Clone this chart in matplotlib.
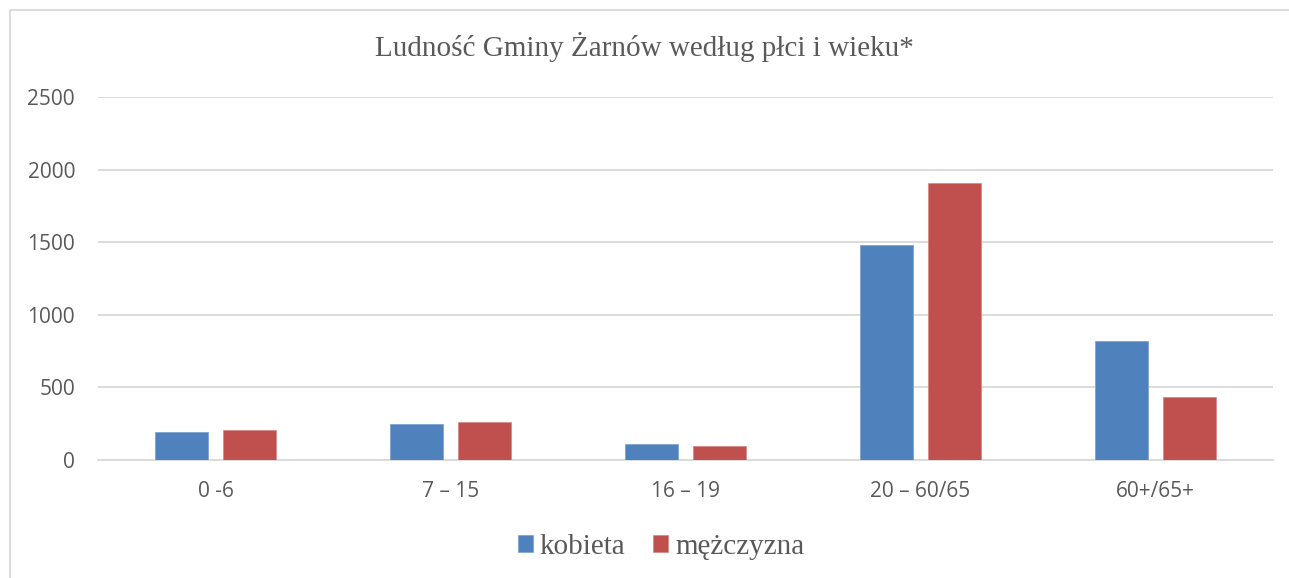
import matplotlib

matplotlib.use("Agg")

import matplotlib.pyplot as plt
import numpy as np
from matplotlib.patches import Rectangle


categories = ["0 -6", "7 – 15", "16 – 19", "20 – 60/65", "60+/65+"]
kobieta = [191, 248, 112, 1479, 822]
mezczyzna = [207, 264, 94, 1910, 436]
series_names = ["kobieta", "mężczyzna"]
y_ticks = [0, 500, 1000, 1500, 2000, 2500]

BLUE = "#4F81BD"
RED = "#C0504D"
TEXT = "#595959"
GRID = "#D9D9D9"

W, H = 1289, 578
fig = plt.figure(figsize=(W / 100, H / 100), dpi=100)
fig.patch.set_facecolor("white")

# chart area border (cut off at right and bottom like in the source)
fig.patches.append(
    Rectangle((10 / W, -0.1), 1.2, 1 - 10 / H + 0.1, transform=fig.transFigure,
              facecolor="none", edgecolor=GRID, linewidth=1.3, zorder=0)
)

ax = fig.add_axes([98 / W, 1 - 460 / H, (1273 - 98) / W, (460 - 97) / H])
x = np.arange(len(categories))
width = 0.2255
offset = 0.1426
ax.bar(x - offset, kobieta, width, color=BLUE, edgecolor="#7FA3D3", linewidth=0.6,
       label=series_names[0], zorder=3)
ax.bar(x + offset, mezczyzna, width, color=RED, edgecolor="#D98A88", linewidth=0.6,
       label=series_names[1], zorder=3)

ax.set_xlim(-0.5, len(categories) - 0.5)
ax.set_ylim(0, 2500)
ax.set_yticks(y_ticks)
ax.set_xticks(x)
ax.set_xticklabels(categories)
ax.yaxis.grid(True, color=GRID, linewidth=1.3)
ax.set_axisbelow(True)
for side in ["top", "right", "left"]:
    ax.spines[side].set_visible(False)
ax.spines["bottom"].set_color(GRID)
ax.spines["bottom"].set_linewidth(1.3)
ax.tick_params(axis="both", length=0, colors=TEXT, labelsize=15)
ax.tick_params(axis="y", pad=16.5)
ax.tick_params(axis="x", pad=15)
for lbl in ax.get_xticklabels() + ax.get_yticklabels():
    lbl.set_fontfamily("Open Sans")

fig.text(0.5, 1 - 47 / H, "Ludność Gminy Żarnów według płci i wieku*", ha="center",
         va="center", fontsize=21, color=TEXT, family="Liberation Serif")

leg = fig.legend(loc="center", bbox_to_anchor=(661 / W, 1 - 547 / H), ncol=2, frameon=False,
                 prop={"family": "Liberation Serif", "size": 21}, handlelength=0.52,
                 handleheight=0.52, handletextpad=0.24, columnspacing=0.93)
for t in leg.get_texts():
    t.set_color(TEXT)

fig.savefig("out.png", dpi=100, facecolor="white")
